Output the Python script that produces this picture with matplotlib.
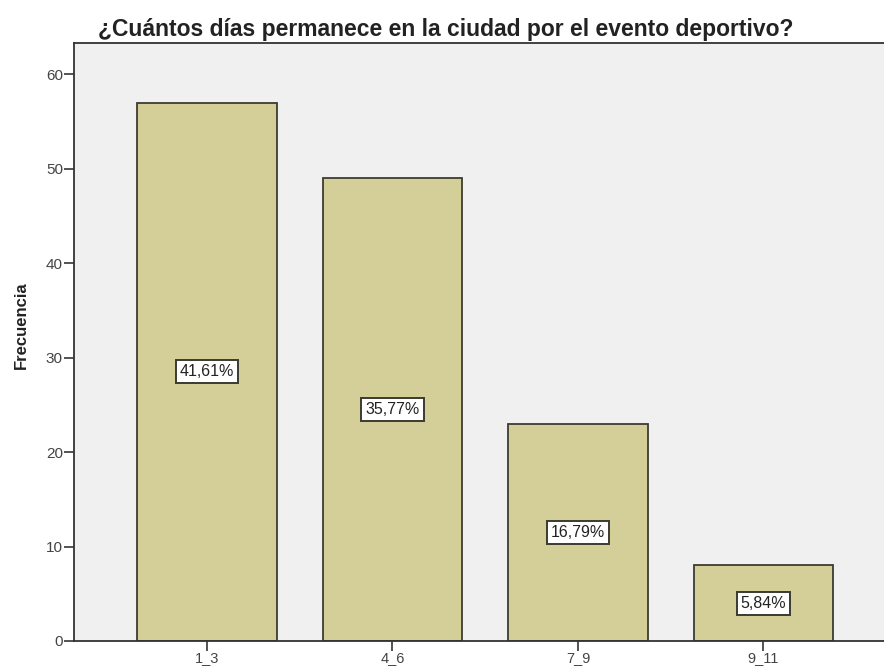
import matplotlib
matplotlib.use("Agg")
import matplotlib.pyplot as plt

categories = ["1_3", "4_6", "7_9", "9_11"]
counts = [57, 49, 23, 8]
percent_labels = ["41,61%", "35,77%", "16,79%", "5,84%"]

plt.rcParams['font.family'] = ['Liberation Sans', 'DejaVu Sans']

fig = plt.figure(figsize=(8.84, 6.69), dpi=100)
ax = fig.add_axes([74 / 884, 28 / 669, 1 - 74 / 884, (641 - 43) / 669])
ax.set_facecolor('#f0f0f0')

x = range(len(categories))
ax.bar(x, counts, width=0.75, color='#d4cf98', edgecolor='#3c3c30', linewidth=1.3)

for i, (c, lab) in enumerate(zip(counts, percent_labels)):
    ax.text(i, c / 2, lab, ha='center', va='center', fontsize=11.5, color='#222222',
            bbox=dict(boxstyle='square,pad=0.25', facecolor='white', edgecolor='#3a3a30', linewidth=1.4))

ax.set_xlim(-0.717, 3.65)
ax.set_ylim(0, 63.3)
ax.set_xticks(list(x))
ax.set_xticklabels(categories)
ax.set_yticks([0, 10, 20, 30, 40, 50, 60])
ax.tick_params(axis='both', labelsize=11, colors='#444444', length=7, width=1.3)
ax.tick_params(axis='x', pad=0.5, labelsize=10.5)
ax.tick_params(axis='y', pad=1)

for side in ['left', 'bottom', 'top']:
    ax.spines[side].set_color('#333333')
    ax.spines[side].set_linewidth(1.3)
ax.spines['right'].set_visible(False)

fig.text(21 / 884, 1 - 325 / 669, "Frecuencia", rotation=90, ha='center', va='center',
         fontsize=12, fontweight='bold', color='#222222')

fig.text(446 / 884, 1 - 36 / 669, "¿Cuántos días permanece en la ciudad por el evento deportivo?",
         ha='center', va='baseline', fontsize=16.5, fontweight='bold', color='#222222')

fig.savefig("out.png", dpi=100)
